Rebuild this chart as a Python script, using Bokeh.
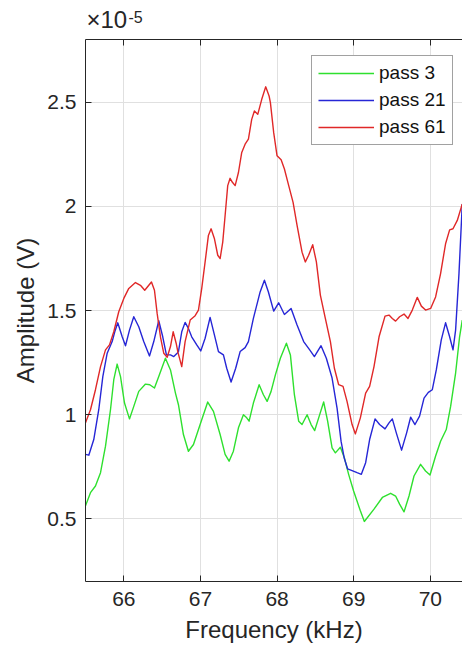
from bokeh.plotting import figure
from bokeh.models import LinearAxis, Range1d, Legend, LegendItem, Label, FixedTicker
from bokeh.embed import file_html
from bokeh.resources import INLINE

# amplitudes in units of 1e-5 V, frequencies in kHz
freq_p3 = [65.500, 65.565, 65.630, 65.696, 65.761, 65.826, 65.869, 65.913, 65.957, 66.009,
           66.074, 66.130, 66.195, 66.283, 66.339, 66.400, 66.456, 66.543, 66.609, 66.674,
           66.713, 66.778, 66.843, 66.909, 66.996, 67.095, 67.170, 67.257, 67.322, 67.374,
           67.430, 67.496, 67.561, 67.604, 67.635, 67.691, 67.766, 67.822, 67.870, 67.922,
           67.978, 68.043, 68.122, 68.174, 68.226, 68.282, 68.326, 68.392, 68.444, 68.491,
           68.543, 68.608, 68.660, 68.718, 68.761, 68.826, 68.878, 68.934, 68.999, 69.087,
           69.139, 69.265, 69.374, 69.482, 69.547, 69.599, 69.657, 69.722, 69.787, 69.873,
           69.938, 69.996, 70.069, 70.134, 70.208, 70.265, 70.330, 70.382, 70.417]
amp_p3 = [0.563, 0.626, 0.658, 0.722, 0.849, 1.024, 1.168, 1.243, 1.183, 1.056,
          0.980, 1.040, 1.112, 1.147, 1.144, 1.128, 1.183, 1.271, 1.215, 1.104,
          1.048, 0.905, 0.825, 0.857, 0.953, 1.061, 1.016, 0.905, 0.810, 0.777,
          0.825, 0.937, 1.000, 0.985, 0.969, 1.056, 1.144, 1.096, 1.064, 1.112,
          1.191, 1.271, 1.343, 1.287, 1.096, 0.969, 0.953, 1.000, 0.953, 0.924,
          0.985, 1.061, 0.969, 0.841, 0.817, 0.844, 0.794, 0.714, 0.634, 0.539,
          0.488, 0.547, 0.603, 0.623, 0.610, 0.571, 0.534, 0.610, 0.706, 0.762,
          0.730, 0.711, 0.802, 0.873, 0.929, 1.040, 1.200, 1.374, 1.454]

freq_p21 = [65.500, 65.543, 65.608, 65.673, 65.726, 65.783, 65.848, 65.882, 65.921, 65.979,
            66.022, 66.074, 66.130, 66.195, 66.260, 66.335, 66.391, 66.456, 66.508, 66.556,
            66.609, 66.652, 66.696, 66.713, 66.756, 66.800, 66.843, 66.886, 66.952, 67.004,
            67.061, 67.126, 67.183, 67.235, 67.300, 67.343, 67.400, 67.460, 67.518, 67.583,
            67.626, 67.691, 67.779, 67.835, 67.887, 67.956, 68.021, 68.096, 68.183, 68.261,
            68.347, 68.426, 68.487, 68.574, 68.643, 68.718, 68.783, 68.835, 68.878, 68.921,
            68.979, 69.044, 69.100, 69.156, 69.208, 69.279, 69.338, 69.409, 69.461, 69.504,
            69.556, 69.625, 69.691, 69.743, 69.800, 69.860, 69.918, 69.974, 70.026, 70.078,
            70.143, 70.199, 70.252, 70.296, 70.330, 70.374, 70.417]
amp_p21 = [0.810, 0.806, 0.881, 1.024, 1.183, 1.295, 1.351, 1.398, 1.441, 1.374,
           1.331, 1.406, 1.470, 1.422, 1.351, 1.282, 1.351, 1.451, 1.374, 1.287,
           1.287, 1.279, 1.295, 1.303, 1.398, 1.443, 1.414, 1.374, 1.335, 1.306,
           1.367, 1.467, 1.382, 1.303, 1.287, 1.223, 1.157, 1.223, 1.303, 1.322,
           1.351, 1.462, 1.589, 1.645, 1.589, 1.497, 1.537, 1.481, 1.510, 1.430,
           1.351, 1.311, 1.279, 1.331, 1.271, 1.176, 1.032, 0.873, 0.790, 0.740,
           0.732, 0.722, 0.714, 0.770, 0.881, 0.980, 0.953, 0.932, 0.961, 0.980,
           0.913, 0.830, 0.913, 0.988, 0.953, 0.993, 1.080, 1.107, 1.120, 1.215,
           1.359, 1.441, 1.374, 1.311, 1.406, 1.677, 2.011]

freq_p61 = [65.500, 65.565, 65.630, 65.696, 65.761, 65.813, 65.869, 65.934, 66.000, 66.065,
            66.152, 66.217, 66.273, 66.326, 66.361, 66.400, 66.435, 66.478, 66.521, 66.566,
            66.609, 66.644, 66.683, 66.706, 66.756, 66.800, 66.866, 66.931, 66.974, 67.017,
            67.061, 67.104, 67.139, 67.183, 67.226, 67.257, 67.291, 67.322, 67.356, 67.387,
            67.417, 67.453, 67.496, 67.539, 67.583, 67.626, 67.669, 67.704, 67.748, 67.800,
            67.852, 67.896, 67.913, 67.956, 68.000, 68.053, 68.096, 68.152, 68.209, 68.261,
            68.326, 68.369, 68.412, 68.465, 68.513, 68.565, 68.630, 68.696, 68.748, 68.804,
            68.861, 68.913, 68.979, 69.022, 69.087, 69.156, 69.208, 69.265, 69.331, 69.409,
            69.461, 69.504, 69.547, 69.599, 69.657, 69.709, 69.765, 69.830, 69.883, 69.938,
            70.004, 70.069, 70.134, 70.199, 70.252, 70.296, 70.352, 70.417]
amp_p61 = [0.961, 1.024, 1.120, 1.231, 1.311, 1.335, 1.398, 1.494, 1.558, 1.606,
           1.634, 1.621, 1.597, 1.621, 1.637, 1.597, 1.486, 1.374, 1.295, 1.276,
           1.327, 1.398, 1.343, 1.300, 1.231, 1.351, 1.454, 1.475, 1.502, 1.606,
           1.733, 1.860, 1.892, 1.844, 1.765, 1.749, 1.828, 1.956, 2.099, 2.134,
           2.115, 2.099, 2.162, 2.258, 2.298, 2.322, 2.417, 2.457, 2.441, 2.513,
           2.573, 2.529, 2.497, 2.353, 2.242, 2.223, 2.179, 2.099, 2.019, 1.908,
           1.780, 1.733, 1.765, 1.816, 1.733, 1.574, 1.462, 1.351, 1.223, 1.144,
           1.136, 1.064, 0.953, 0.908, 0.985, 1.104, 1.136, 1.231, 1.374, 1.473,
           1.478, 1.462, 1.449, 1.470, 1.483, 1.462, 1.502, 1.563, 1.521, 1.502,
           1.510, 1.565, 1.677, 1.820, 1.887, 1.892, 1.932, 2.011]

series_names = ["pass 3", "pass 21", "pass 61"]
x_ticks = [66, 67, 68, 69, 70]
y_ticks = [0.5, 1, 1.5, 2, 2.5]
y_tick_labels = ["0.5", "1", "1.5", "2", "2.5"]

FONT = "Liberation Sans"
DARK = "#262626"
GRID = "#e0e0e0"
COLORS = ["#2ee02e", "#2626d6", "#e02828"]

p = figure(width=462, height=651, output_backend="svg", toolbar_location=None,
           x_range=Range1d(65.5, 70.42), y_range=Range1d(0.2, 2.8),
           min_border_left=85, min_border_right=0, min_border_top=39, min_border_bottom=70,
           x_axis_label="Frequency (kHz)", y_axis_label="Amplitude (V)")
p.outline_line_color = None
p.background_fill_color = "white"
p.border_fill_color = "white"

p.xaxis.ticker = FixedTicker(ticks=x_ticks)
p.yaxis.ticker = FixedTicker(ticks=y_ticks)
p.yaxis.major_label_overrides = {t: l for t, l in zip(y_ticks, y_tick_labels)}
for ax in (p.xaxis[0], p.yaxis[0]):
    ax.axis_line_color = DARK
    ax.axis_line_width = 1
    ax.major_tick_line_color = DARK
    ax.major_tick_in = 6
    ax.major_tick_out = 0
    ax.minor_tick_line_color = None
    ax.major_label_text_font = FONT
    ax.major_label_text_font_size = "21px"
    ax.major_label_text_color = DARK
    ax.axis_label_text_font = FONT
    ax.axis_label_text_font_size = "24px"
    ax.axis_label_text_font_style = "normal"
    ax.axis_label_text_color = DARK
p.xaxis.major_label_standoff = 10
p.xaxis.axis_label_standoff = 7
p.yaxis.major_label_standoff = 9
p.yaxis.axis_label_standoff = 5

top = LinearAxis(ticker=FixedTicker(ticks=x_ticks), axis_line_color=DARK,
                 major_tick_line_color=DARK, major_tick_in=6, major_tick_out=0,
                 minor_tick_line_color=None, major_label_standoff=0,
                 major_label_overrides={t: "" for t in x_ticks})
p.add_layout(top, "above")

p.xgrid.ticker = FixedTicker(ticks=x_ticks)
p.ygrid.ticker = FixedTicker(ticks=y_ticks)
p.xgrid.grid_line_color = GRID
p.ygrid.grid_line_color = GRID

data = [(freq_p3, amp_p3), (freq_p21, amp_p21), (freq_p61, amp_p61)]
renderers = []
for (fx, ay), c in zip(data, COLORS):
    renderers.append(p.line(fx, ay, line_color=c, line_width=1.4, line_join="round"))

legend = Legend(items=[LegendItem(label=n, renderers=[r]) for n, r in zip(series_names, renderers)],
                location=(226, 436), label_text_font=FONT, label_text_font_size="19px",
                label_text_color="#111111", glyph_width=56, glyph_height=22, label_standoff=5,
                padding=6, spacing=5, border_line_color="#444444", border_line_width=1,
                background_fill_color="white", background_fill_alpha=1, margin=0)
p.add_layout(legend)

# exponent marker above the top-left corner of the axes
p.add_layout(Label(x=65.5, y=2.829, x_offset=1, text="×10", text_font=FONT,
                   text_font_size="24px", text_color=DARK, text_baseline="bottom",
                   text_line_height=1.0), "above")
p.add_layout(Label(x=65.5, y=2.877, x_offset=43, text="-5", text_font=FONT,
                   text_font_size="16px", text_color=DARK, text_baseline="bottom",
                   text_line_height=1.0), "above")

open("out.html", "w").write(file_html(p, INLINE))
